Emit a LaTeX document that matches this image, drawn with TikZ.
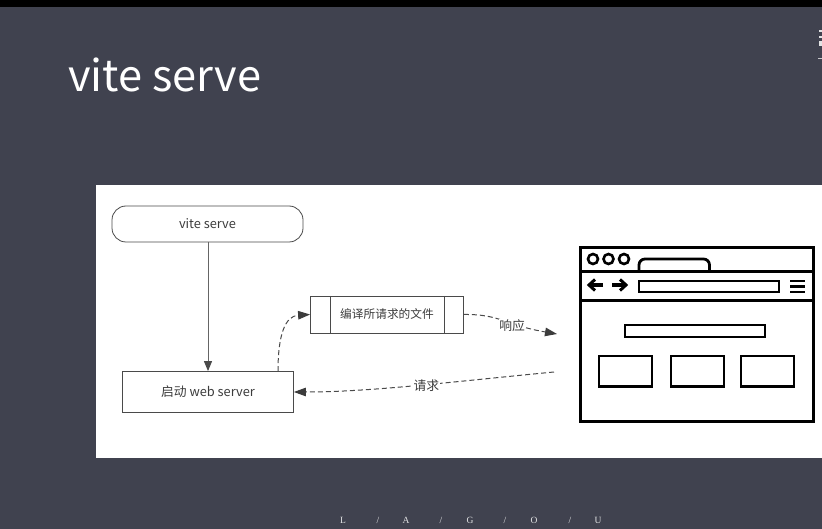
\documentclass[tikz,border=0pt]{standalone}
\usepackage{fontspec}
\setmainfont{Noto Sans CJK SC}
\newfontfamily\footserif{Liberation Serif}
\usetikzlibrary{arrows.meta}
\definecolor{slide}{HTML}{40424F}
\definecolor{linegray}{HTML}{4A4A4A}
\definecolor{textgray}{HTML}{3C3C3C}
\tikzset{
  x=1pt,y=-1pt,
  flowbox/.style={draw=linegray,line width=0.8pt,fill=white,text=textgray,font=\fontsize{12.8}{14}\selectfont,inner sep=0pt},
  solidarrow/.style={draw=linegray!85,line width=1pt,-{Triangle[length=10pt,width=8pt,color=linegray]}},
  dasharrow/.style={draw=linegray,line width=1pt,dash pattern=on 5pt off 3pt,-{Triangle[length=12pt,width=8.5pt,color=textgray]}},
  edgelabel/.style={fill=white,text=textgray,font=\fontsize{12.8}{14}\selectfont,inner sep=0.5pt},
  bw/.style={draw=black,line width=3pt},
  bwinner/.style={draw=black,line width=2.7pt},
  footl/.style={text=white!85!slide,font=\footserif\fontsize{9.5}{10}\selectfont,inner sep=0pt},
}
\begin{document}
\begin{tikzpicture}
\useasboundingbox (0,0) rectangle (822,529);
\fill[slide] (0,0) rectangle (822,529);
\fill[black] (0,0) rectangle (822,7);
\node[anchor=base west,text=white,inner sep=0pt,font=\fontsize{43.4}{50}\selectfont] (title) at (68,91.5) {vite serve};
% clipped corner glyph
\fill[white!85!slide] (819,30) rectangle (822,32);
\fill[white!85!slide] (819,36) rectangle (822,38);
\fill[white!85!slide] (819,41) -- (822,41) -- (822,46) -- (819,46) -- cycle;
\draw[white!70!slide,line width=0.8pt] (818,58.5) -- (822,58.5);
% white panel
\fill[white] (96,185) rectangle (822,458);
% flow nodes
\node[flowbox,minimum width=191pt,minimum height=36pt,rounded corners=14pt] (serve) at (207.5,224) {vite serve};
\node[flowbox,minimum width=171pt,minimum height=41pt] (start) at (208,392) {\raisebox{-0.6pt}{启动 web server}};
\node[flowbox,minimum width=153pt,minimum height=37pt,font=\fontsize{11.7}{14}\selectfont] (compile) at (387,314.5) {编译所请求的文件};
\draw[linegray,line width=0.8pt] (330,296) -- (330,333) (444,296) -- (444,333);
\coordinate (respEnd) at (557,334);
\coordinate (reqStart) at (554,372);
\draw[solidarrow] (serve.south -| start.north) -- (start.north);
\draw[dasharrow] ([xshift=70pt]start.north) .. controls (278,335) and (285,316) .. (compile.west);
\draw[dasharrow] (compile.east) .. controls (500,314) and (505,325) .. (respEnd) node[edgelabel,pos=0.6,yshift=-2.5pt] (resplabel) {响应};
\draw[dasharrow] (reqStart) .. controls (450,382) and (370,392) .. (start.east) node[edgelabel,pos=0.45,yshift=-1pt] (reqlabel) {请求};
% browser
\draw[bw] (580.5,247.5) rectangle (813,421);
\draw[bw] (580.5,271.5) -- (813,271.5);
\draw[bw] (580.5,300.5) -- (813,300.5);
\foreach \cx in {593,608.5,624} \draw[black,line width=2.6pt] (\cx,259) circle (5pt);
\draw[black,line width=2.8pt,rounded corners=6pt] (639,271) -- (639,259) -- (709.5,259) -- (709.5,271);
\draw[black,line width=3.2pt] (603,285) -- (591,285);
\draw[black,line width=3pt] (595,279.5) -- (589,285) -- (595,290.5);
\draw[black,line width=3.2pt] (612,285) -- (624,285);
\draw[black,line width=3pt] (620,279.5) -- (626,285) -- (620,290.5);
\draw[bwinner] (639,281) rectangle (779,292);
\draw[black,line width=2.8pt] (790,281) -- (805,281) (790,286.5) -- (805,286.5) (790,292) -- (805,292);
\draw[bwinner] (625,325) rectangle (765,337);
\draw[bwinner] (599,356) rectangle (652,386.5);
\draw[bwinner] (671,356) rectangle (724,386.5);
\draw[bwinner] (741,356) rectangle (794,386.5);
% footer
\node[footl] (f1) at (343,520.5) {L};
\node[footl] (f2) at (378,520.5) {/};
\node[footl] (f3) at (406,520.5) {A};
\node[footl] (f4) at (441,520.5) {/};
\node[footl] (f5) at (470,520.5) {G};
\node[footl] (f6) at (505,520.5) {/};
\node[footl] (f7) at (534,520.5) {O};
\node[footl] (f8) at (570,520.5) {/};
\node[footl] (f9) at (598,520.5) {U};
\end{tikzpicture}
\end{document}
